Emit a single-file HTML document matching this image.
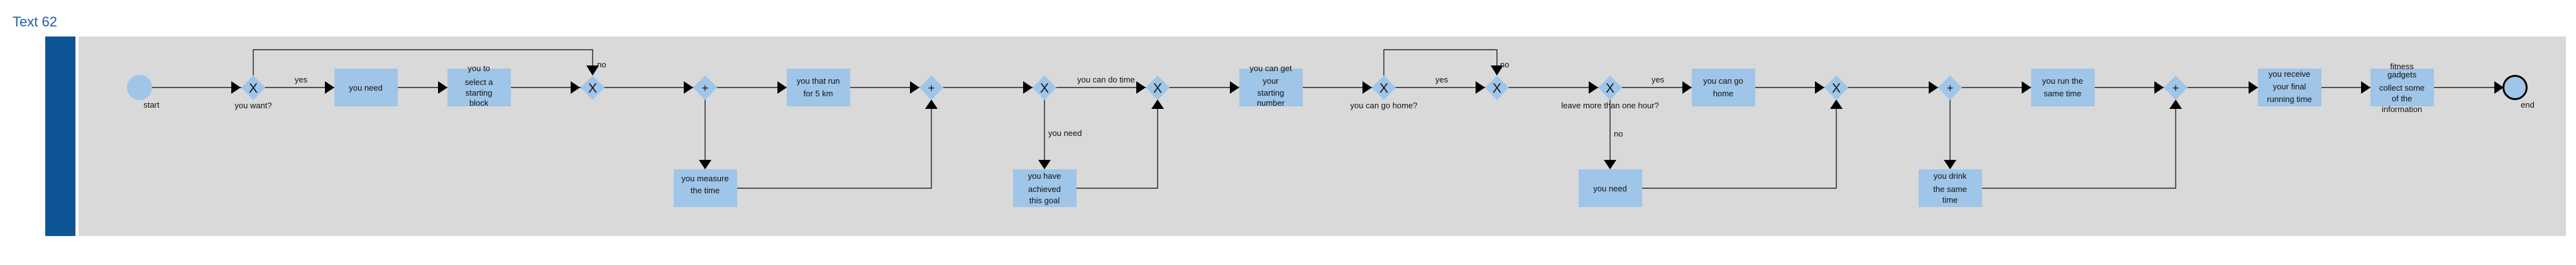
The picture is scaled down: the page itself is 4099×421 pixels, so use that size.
<!DOCTYPE html>
<html><head><meta charset="utf-8"><style>
html,body{margin:0;padding:0;background:#fff;}
svg{display:block;}
text{font-family:"Liberation Sans",sans-serif;font-size:13px;fill:#111;}
.c{text-anchor:middle;}
.g{font-size:21px;text-anchor:middle;}
</style></head><body>
<svg width="4099" height="421" viewBox="0 0 4099 421" xmlns="http://www.w3.org/2000/svg">
<text x="20" y="42" style="font-size:22px;fill:#1f5fa6;">Text 62</text>
<rect x="72" y="58" width="48" height="317" fill="#0e5596"/>
<rect x="125" y="58" width="3958" height="317" fill="#d9d9d9"/>

<!-- main line -->
<line x1="242" y1="139" x2="3984" y2="139" stroke="#000" stroke-width="1.2"/>
<!-- loops -->
<polyline points="403,120 403,79 943,79 943,105" fill="none" stroke="#000" stroke-width="1.2"/>
<polyline points="2202,120 2202,79 2382,79 2382,105" fill="none" stroke="#000" stroke-width="1.2"/>
<polygon points="933,104 953,104 943,120" fill="#000"/>
<polygon points="2372,104 2392,104 2382,120" fill="#000"/>
<!-- lower paths -->
<g fill="none" stroke="#000" stroke-width="1.2">
<polyline points="1122,158 1122,256"/><polyline points="1172,299 1482,299 1482,172"/>
<polyline points="1662,158 1662,256"/><polyline points="1712,299 1842,299 1842,172"/>
<polyline points="2562,158 2562,256"/><polyline points="2612,299 2922,299 2922,172"/>
<polyline points="3103,158 3103,256"/><polyline points="3154,299 3462,299 3462,172"/>
</g>
<g fill="#000">
<polygon points="1112,254 1132,254 1122,269"/><polygon points="1472,173 1492,173 1482,158"/>
<polygon points="1652,254 1672,254 1662,269"/><polygon points="1832,173 1852,173 1842,158"/>
<polygon points="2552,254 2572,254 2562,269"/><polygon points="2912,173 2932,173 2922,158"/>
<polygon points="3093,254 3113,254 3103,269"/><polygon points="3452,173 3472,173 3462,158"/>
</g>
<!-- horizontal arrowheads -->
<g fill="#000">
<polygon points="368,129 383,139 368,149"/>
<polygon points="517,129 532,139 517,149"/>
<polygon points="697,129 712,139 697,149"/>
<polygon points="908,129 923,139 908,149"/>
<polygon points="1088,129 1103,139 1088,149"/>
<polygon points="1237,129 1252,139 1237,149"/>
<polygon points="1448,129 1463,139 1448,149"/>
<polygon points="1628,129 1643,139 1628,149"/>
<polygon points="1808,129 1823,139 1808,149"/>
<polygon points="1957,129 1972,139 1957,149"/>
<polygon points="2168,129 2183,139 2168,149"/>
<polygon points="2348,129 2363,139 2348,149"/>
<polygon points="2528,129 2543,139 2528,149"/>
<polygon points="2677,129 2692,139 2677,149"/>
<polygon points="2888,129 2903,139 2888,149"/>
<polygon points="3069,129 3084,139 3069,149"/>
<polygon points="3217,129 3232,139 3217,149"/>
<polygon points="3428,129 3443,139 3428,149"/>
<polygon points="3578,129 3593,139 3578,149"/>
<polygon points="3757,129 3772,139 3757,149"/>
<polygon points="3969,129 3984,139 3969,149"/>
</g>
<!-- start / end -->
<circle cx="222" cy="139" r="20" fill="#9fc5e8"/>
<text class="c" x="241" y="171">start</text>
<circle cx="4002" cy="139" r="18.5" fill="#9fc5e8" stroke="#000" stroke-width="3"/>
<text class="c" x="4022" y="171">end</text>

<!-- gateways -->
<g fill="#9fc5e8">
<polygon points="403,120 422,139 403,159 384,139"/>
<polygon points="943,120 962,139 943,159 924,139"/>
<polygon points="1122,120 1141,139 1122,159 1103,139"/>
<polygon points="1482,120 1501,139 1482,159 1463,139"/>
<polygon points="1662,120 1681,139 1662,159 1643,139"/>
<polygon points="1842,120 1861,139 1842,159 1823,139"/>
<polygon points="2202,120 2221,139 2202,159 2183,139"/>
<polygon points="2382,120 2401,139 2382,159 2363,139"/>
<polygon points="2562,120 2581,139 2562,159 2543,139"/>
<polygon points="2922,120 2941,139 2922,159 2903,139"/>
<polygon points="3103,120 3122,139 3103,159 3084,139"/>
<polygon points="3462,120 3481,139 3462,159 3443,139"/>
</g>
<text class="g" x="403" y="147">X</text>
<text class="g" x="943" y="147">X</text>
<text class="g" x="1122" y="146" style="font-size:18px">+</text>
<text class="g" x="1482" y="146" style="font-size:18px">+</text>
<text class="g" x="1662" y="147">X</text>
<text class="g" x="1842" y="147">X</text>
<text class="g" x="2202" y="147">X</text>
<text class="g" x="2382" y="147">X</text>
<text class="g" x="2562" y="147">X</text>
<text class="g" x="2922" y="147">X</text>
<text class="g" x="3103" y="146" style="font-size:18px">+</text>
<text class="g" x="3462" y="146" style="font-size:18px">+</text>

<!-- tasks main -->
<g fill="#9fc5e8">
<rect x="532" y="109" width="101" height="60"/>
<rect x="712" y="109" width="101" height="60"/>
<rect x="1252" y="109" width="101" height="60"/>
<rect x="1972" y="109" width="101" height="60"/>
<rect x="2692" y="109" width="101" height="60"/>
<rect x="3232" y="109" width="101" height="60"/>
<rect x="3593" y="109" width="101" height="60"/>
<rect x="3772" y="109" width="101" height="60"/>
<rect x="1072" y="269" width="101" height="60"/>
<rect x="1612" y="269" width="101" height="60"/>
<rect x="2512" y="269" width="101" height="60"/>
<rect x="3053" y="269" width="101" height="60"/>
</g>
<text class="c" x="582" y="144">you need</text>
<text class="c" x="762" y="113">you to</text>
<text class="c" x="762" y="135">select a</text>
<text class="c" x="762" y="152">starting</text>
<text class="c" x="762" y="168">block</text>
<text class="c" x="1302" y="133">you that run</text>
<text class="c" x="1302" y="153">for 5 km</text>
<text class="c" x="2022" y="113">you can get</text>
<text class="c" x="2022" y="133">your</text>
<text class="c" x="2022" y="152">starting</text>
<text class="c" x="2022" y="168">number</text>
<text class="c" x="2742" y="133">you can go</text>
<text class="c" x="2742" y="153">home</text>
<text class="c" x="3282" y="133">you run the</text>
<text class="c" x="3282" y="153">same time</text>
<text class="c" x="3643" y="122">you receive</text>
<text class="c" x="3643" y="142">your final</text>
<text class="c" x="3643" y="162">running time</text>
<text class="c" x="3822" y="110">fitness</text>
<text class="c" x="3822" y="123">gadgets</text>
<text class="c" x="3822" y="144">collect some</text>
<text class="c" x="3822" y="161">of the</text>
<text class="c" x="3822" y="178">information</text>

<text class="c" x="1122" y="288">you measure</text>
<text class="c" x="1122" y="307">the time</text>
<text class="c" x="1662" y="284">you have</text>
<text class="c" x="1662" y="305">achieved</text>
<text class="c" x="1662" y="323">this goal</text>
<text class="c" x="2562" y="304">you need</text>
<text class="c" x="3103" y="284">you drink</text>
<text class="c" x="3103" y="305">the same</text>
<text class="c" x="3103" y="322">time</text>

<!-- labels -->
<text class="c" x="403" y="172">you want?</text>
<text class="c" x="479" y="131">yes</text>
<text x="950" y="107">no</text>
<text class="c" x="1760" y="131">you can do time</text>
<text x="1668" y="216">you need</text>
<text class="c" x="2202" y="172">you can go home?</text>
<text class="c" x="2294" y="131">yes</text>
<text x="2387" y="107">no</text>
<text class="c" x="2562" y="172">leave more than one hour?</text>
<text class="c" x="2638" y="131">yes</text>
<text x="2568" y="217">no</text>
</svg>
</body></html>
